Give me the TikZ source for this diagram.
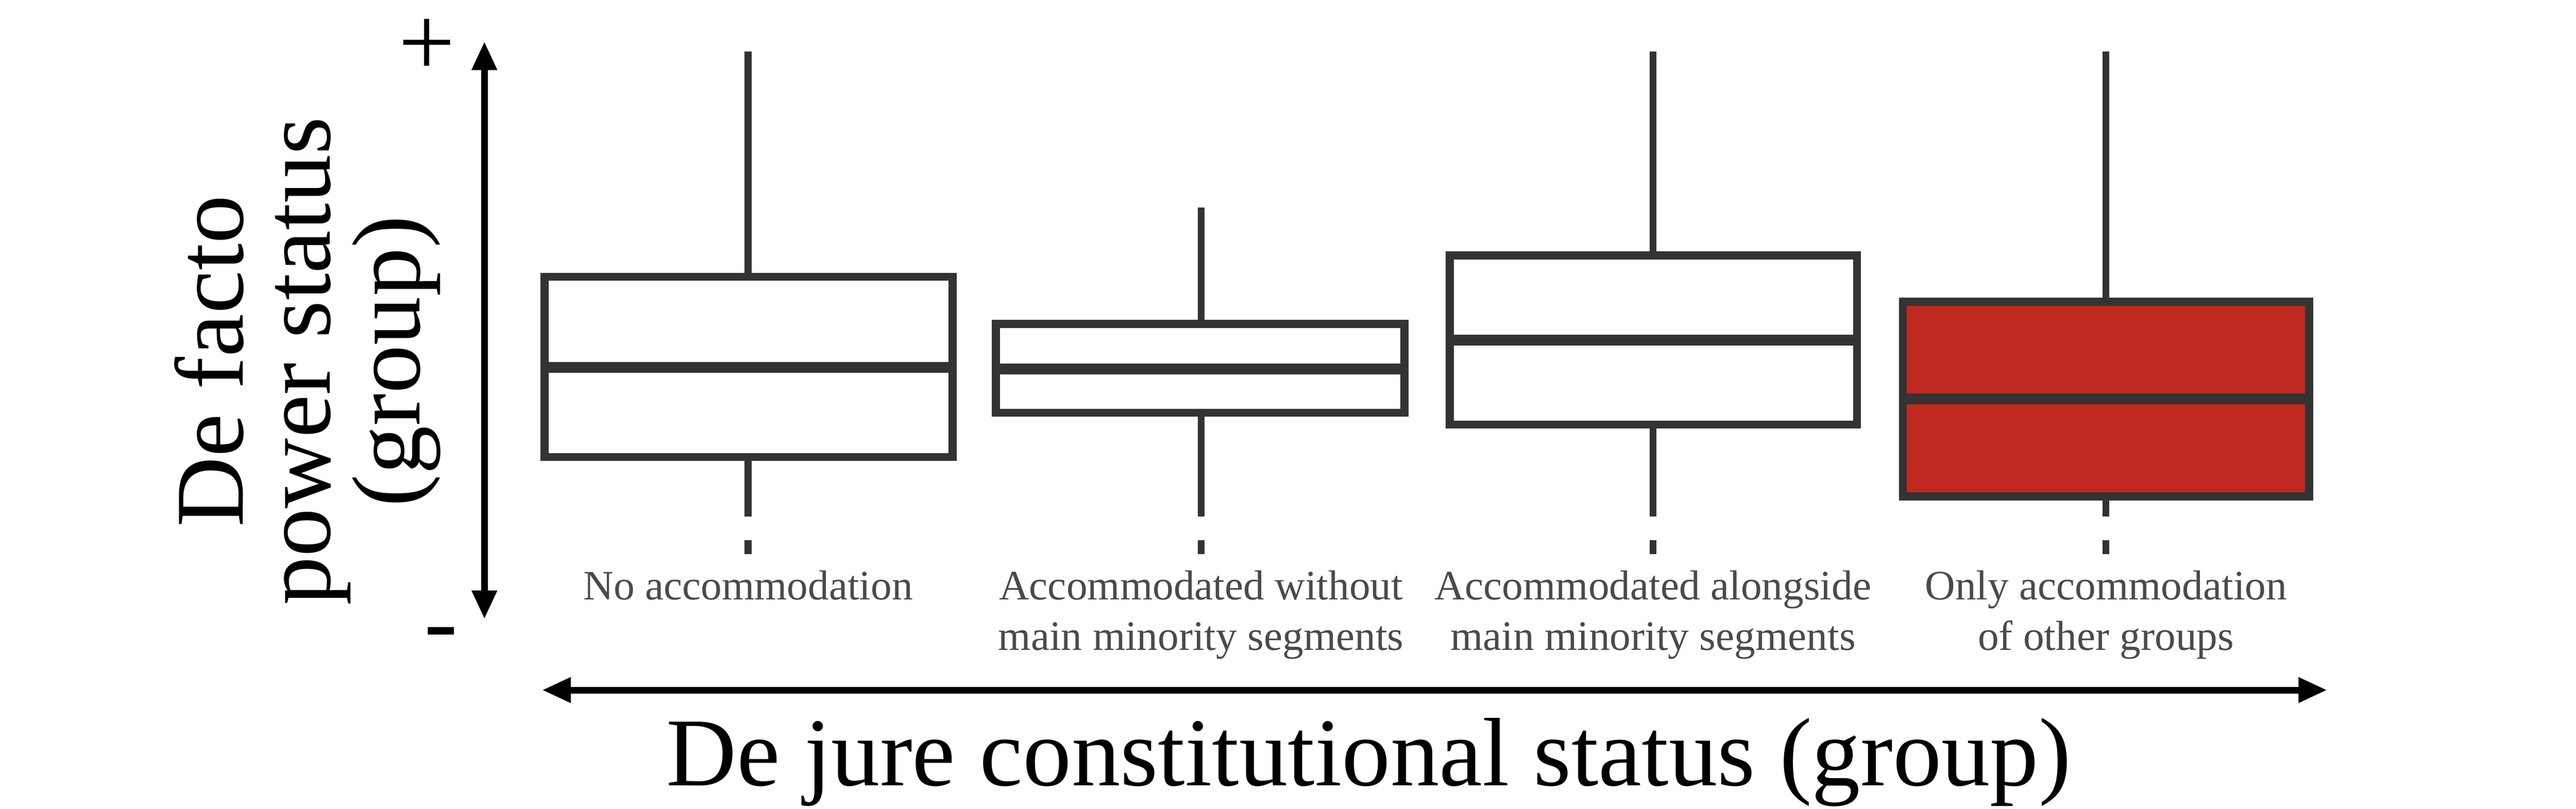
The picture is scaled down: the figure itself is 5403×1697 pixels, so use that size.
\documentclass[tikz,border=0pt]{standalone}
\usepackage{fontspec}
\setmainfont{Liberation Serif}
\usetikzlibrary{arrows.meta}
\definecolor{boxline}{HTML}{333333}
\definecolor{boxred}{HTML}{C0291F}
\definecolor{labelgray}{HTML}{4A4A4A}
\begin{document}
\begin{tikzpicture}[
    x=0.01cm, y=-0.01cm,
    boxplot/.style={draw=boxline, line width=4.8pt},
    whisker/.style={draw=boxline, line width=4pt},
    median/.style={draw=boxline, line width=6.5pt},
    axis/.style={-{Triangle[length=0.6cm, width=0.5cm]}, line width=4pt, black},
    catlabel/.style={align=center, text=labelgray, font=\fontsize{25}{30}\selectfont}
]
\useasboundingbox (0,0) rectangle (5403,1697);

% Boites: gauche, droite, centre, haut whisker, haut, mediane, bas, remplissage
\foreach \xl/\xr/\xc/\wt/\bt/\md/\bb/\fc in {
    1142/1998/1569/108/581/771/959/white,
    2089/2946/2519/436/680/774/866/white,
    3041/3895/3467/108/536/714/891/white,
    3991/4843/4417/108/633/837/1042/boxred}{
  \draw[whisker] (\xc,\wt) -- (\xc,\bt);
  \draw[whisker] (\xc,\bb) -- (\xc,1084);
  \draw[boxplot, fill=\fc] (\xl,\bt) rectangle (\xr,\bb);
  \draw[median] (\xl,\md) -- (\xr,\md);
  \draw[whisker] (\xc,1134) -- (\xc,1163);
}

% Etiquettes des categories
\node[catlabel, anchor=north] (cat1) at (1569,1185) {No accommodation};
\node[catlabel, anchor=north] (cat2) at (2519,1185) {Accommodated without\\main minority segments};
\node[catlabel, anchor=north] (cat3) at (3467,1185) {Accommodated alongside\\main minority segments};
\node[catlabel, anchor=north] (cat4) at (4417,1185) {Only accommodation\\of other groups};

% Axe vertical
\coordinate (ytop) at (1016,87);
\coordinate (ybot) at (1016,1299);
\draw[axis, {Triangle[length=0.6cm, width=0.5cm]}-{Triangle[length=0.6cm, width=0.5cm]}] (ybot) -- (ytop);
\node[font=\fontsize{60}{60}\selectfont] (plus) at (895,100) {+};
\node[font=\fontsize{60}{60}\selectfont] (minus) at (925,1345) {-};
\node[rotate=90, align=center, font=\fontsize{58}{52}\selectfont] (ylab) at (645,758) {De facto\\power status\\(group)};

% Axe horizontal
\coordinate (xleft) at (1137,1448);
\coordinate (xright) at (4881,1448);
\draw[axis, {Triangle[length=0.6cm, width=0.5cm]}-{Triangle[length=0.6cm, width=0.5cm]}] (xleft) -- (xright);
\node[font=\fontsize{58}{60}\selectfont] (xlab) at (2871,1600) {De jure constitutional status (group)};

\end{tikzpicture}
\end{document}
